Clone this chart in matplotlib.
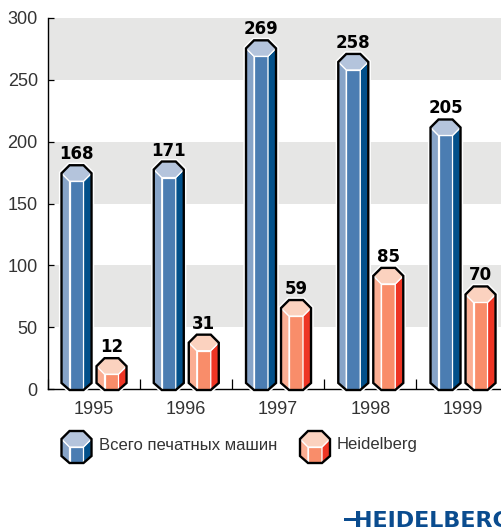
import matplotlib
matplotlib.use("Agg")
import matplotlib.pyplot as plt
from matplotlib.patches import Polygon, Rectangle
from matplotlib.ticker import FixedLocator, NullFormatter

plt.rcParams["font.family"] = ["Liberation Sans", "DejaVu Sans"]

years = ["1995", "1996", "1997", "1998", "1999"]
total_presses = [168, 171, 269, 258, 205]
heidelberg = [12, 31, 59, 85, 70]
y_ticks = [0, 50, 100, 150, 200, 250, 300]
bands = [(50, 100), (150, 200), (250, 300)]
legend_labels = ["Всего печатных машин", "Heidelberg"]

BLUE = dict(top="#b4c4dc", left="#87a4c8", front="#4b7db2", right="#02508a")
ORANGE = dict(top="#fbd2bf", left="#fbae93", front="#f98d6a", right="#ee3524")
TEXT = "#333333"
LOGO = "#0a4c8f"

W, H = 501, 528
LEFT, BASE, TOP = 47.5, 389, 18
GROUP = 92.25  # px per year group

fig = plt.figure(figsize=(W / 100, H / 100), dpi=100)
ax = fig.add_axes([LEFT / W, (H - BASE) / H, (W - LEFT) / W, (BASE - TOP) / H])
ax.set_xlim(-0.5, (W - LEFT) / GROUP - 0.5)
ax.set_ylim(0, 300)

# px sizes -> data units
PX = 1 / GROUP
PY = 300 / (BASE - TOP)


def draw_bar(xc, val, base, c):
    # hexagonal column, val sits on the top edge of the front face
    def p(dx, y, dy):
        return (xc + dx * PX, y + dy * PY)

    outline = [p(-15, base, 7), p(-15, val, 8), p(-7, val, 16), p(7, val, 16),
               p(15, val, 8), p(15, base, 7), p(7, base, 0), p(-7, base, 0)]
    top = [p(-15, val, 8), p(-7, val, 16), p(7, val, 16), p(15, val, 8), p(7, val, 0), p(-7, val, 0)]
    left = [p(-15, val, 8), p(-7, val, 0), p(-7, base, 0), p(-15, base, 7)]
    front = [p(-7, val, 0), p(7, val, 0), p(7, base, 0), p(-7, base, 0)]
    right = [p(7, val, 0), p(15, val, 8), p(15, base, 7), p(7, base, 0)]

    kw = dict(clip_on=False, zorder=3, joinstyle="miter")
    ax.add_patch(Polygon(outline, closed=True, fc="white", ec="white", lw=3.8, **kw))
    for pts, col in ((left, c["left"]), (front, c["front"]), (right, c["right"]), (top, c["top"])):
        ax.add_patch(Polygon(pts, closed=True, fc=col, ec="white", lw=0.9, **kw))
    ax.add_patch(Polygon(outline, closed=True, fc="none", ec="black", lw=1.7,
                         clip_on=False, zorder=4, joinstyle="miter"))


for lo, hi in bands:
    ax.axhspan(lo, hi, color="#e6e6e5", lw=0, zorder=0)

blue_off, orange_off = -17.1 * PX, 17.9 * PX
for i in range(len(years)):
    for xc, val, c in ((i + blue_off, total_presses[i], BLUE), (i + orange_off, heidelberg[i], ORANGE)):
        draw_bar(xc, val, -1 * PY, c)
        ax.text(xc, val + 22 * PY, str(val), ha="center", va="baseline", fontsize=12,
                fontweight="bold", family="DejaVu Sans", color="black", zorder=5)

# axes and ticks
for s in ("top", "right"):
    ax.spines[s].set_visible(False)
ax.spines["left"].set_linewidth(1.0)
ax.spines["bottom"].set_linewidth(1.0)
ax.set_yticks(y_ticks)
ax.tick_params(axis="y", direction="in", length=4.5, width=0.9, labelsize=13, labelcolor=TEXT, pad=7)
ax.xaxis.set_major_locator(FixedLocator([i - 0.5 for i in range(len(years))]))
ax.xaxis.set_major_formatter(NullFormatter())
ax.set_xticks(range(len(years)), minor=True)
ax.set_xticklabels(years, minor=True)
ax.tick_params(axis="x", which="major", direction="in", length=7, width=0.9)
ax.tick_params(axis="x", which="minor", length=0, labelsize=13, labelcolor=TEXT, pad=8.5)

# legend, placed below the axis
leg_val, leg_base = (BASE - 447) * PY, (BASE - 463) * PY
leg_y = (BASE - 445) * PY
for px_icon, px_text, c, label in ((76.5, 99, BLUE, legend_labels[0]), (315, 337, ORANGE, legend_labels[1])):
    draw_bar((px_icon - LEFT) * PX - 0.5, leg_val, leg_base, c)
    ax.text((px_text - LEFT) * PX - 0.5, leg_y, label, ha="left", va="center", fontsize=12,
            color=TEXT, clip_on=False)

# logo, cut off by the right edge as in the source
fig.text(354 / W, 1 - 527 / H, "HEIDELBERG", ha="left", va="baseline", fontsize=16,
         fontweight="bold", family="DejaVu Sans", color=LOGO)
fig.add_artist(Rectangle((344 / W, 1 - 520.5 / H), 14 / W, 3 / H, transform=fig.transFigure,
                         fc=LOGO, ec="none"))

fig.savefig("out.png", dpi=100)
